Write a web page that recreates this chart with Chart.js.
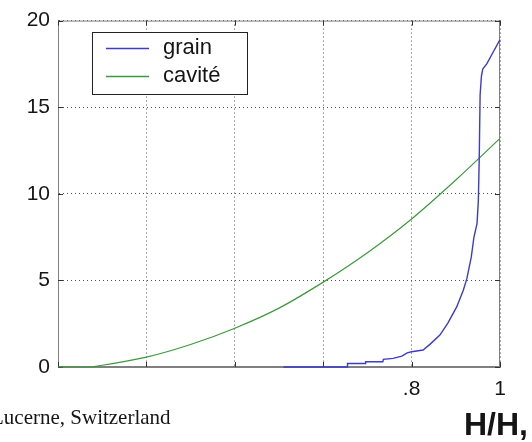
<!DOCTYPE html>
<html>
<head>
<meta charset="utf-8">
<script src="https://cdn.jsdelivr.net/npm/chart.js"></script>
<style>
    body { margin: 0; background: #fff; }
    #cadre { position: relative; width: 532px; height: 442px; overflow: hidden; background: #fff; }
    #cadre canvas { position: absolute; left: 0; top: 0; }
    .note { position: absolute; white-space: nowrap; color: #151515; line-height: 1; }
    #lieu { left: -9px; top: 405px; font: 21px "Liberation Serif", "Times New Roman", serif; }
    #axeX { left: 464px; top: 406px; font: bold 32px "Liberation Sans", Arial, sans-serif; }
</style>
</head>
<body>
<div id="cadre">
    <canvas id="courbes" width="532" height="442"></canvas>
    <div class="note" id="lieu">Lucerne, Switzerland</div>
    <div class="note" id="axeX">H/H,</div>
</div>
<script>
// Courbe "grain"
const grainX = [0.51, 0.654, 0.655, 0.695, 0.696, 0.735, 0.736, 0.758, 0.778, 0.79, 0.80, 0.826, 0.842, 0.864, 0.882, 0.902, 0.917, 0.925, 0.935, 0.941, 0.948, 0.951, 0.953, 0.955, 0.958, 0.961, 0.97, 0.985, 1.0];
const grainY = [0, 0, 0.2, 0.2, 0.3, 0.3, 0.44, 0.5, 0.63, 0.82, 0.88, 0.98, 1.32, 1.84, 2.53, 3.47, 4.43, 5.1, 6.34, 7.49, 8.28, 9.6, 12.0, 15.7, 16.8, 17.2, 17.5, 18.2, 18.9];

// Courbe "cavité"
const caviteX = [0, 0.07, 0.1, 0.2, 0.3, 0.4, 0.5, 0.6, 0.7, 0.8, 0.9, 1.0];
const caviteY = [0, 0, 0.1, 0.57, 1.3, 2.24, 3.4, 4.9, 6.6, 8.55, 10.8, 13.2];

// Graduations
const xTicksShown = [0.8, 1];
const xTickText = ['.8', '1'];
const yTicks = [0, 5, 10, 15, 20];

const police = '"Liberation Sans", Arial, sans-serif';

function points(xs, ys) {
    return xs.map((x, i) => ({ x: x, y: ys[i] }));
}

// Cadre et petites graduations façon MATLAB (sous les courbes), légende par-dessus
const cadrePlugin = {
    id: 'cadre',
    beforeDatasetsDraw(chart) {
        const ctx = chart.ctx;
        const a = chart.chartArea;
        const sx = chart.scales.x;
        const sy = chart.scales.y;
        ctx.save();
        ctx.strokeStyle = '#808080';
        ctx.lineWidth = 1;
        ctx.strokeRect(a.left + 0.5, a.top + 0.5, a.right - a.left - 1, a.bottom - a.top - 1);

        ctx.strokeStyle = '#333';
        ctx.beginPath();
        sx.ticks.forEach(t => {
            const px = Math.round(sx.getPixelForValue(t.value)) + 0.5;
            ctx.moveTo(px, a.bottom); ctx.lineTo(px, a.bottom - 5);
            ctx.moveTo(px, a.top); ctx.lineTo(px, a.top + 5);
        });
        yTicks.forEach(v => {
            const py = Math.round(sy.getPixelForValue(v)) + 0.5;
            ctx.moveTo(a.left, py); ctx.lineTo(a.left + 5, py);
            ctx.moveTo(a.right, py); ctx.lineTo(a.right - 5, py);
        });
        ctx.stroke();
        ctx.restore();
    },
    afterDraw(chart) {
        const ctx = chart.ctx;
        ctx.save();
        ctx.fillStyle = '#fff';
        ctx.fillRect(92, 32, 155, 62);
        ctx.strokeStyle = '#222';
        ctx.lineWidth = 1;
        ctx.strokeRect(92.5, 32.5, 155, 62);
        ctx.font = '22px ' + police;
        ctx.textBaseline = 'middle';
        const lignes = [48, 76];
        chart.data.datasets.forEach((ds, i) => {
            ctx.strokeStyle = ds.borderColor;
            ctx.lineWidth = 1.3;
            ctx.beginPath();
            ctx.moveTo(106, lignes[i] + 0.5);
            ctx.lineTo(149, lignes[i] + 0.5);
            ctx.stroke();
            ctx.fillStyle = '#151515';
            ctx.fillText(ds.label, 163, lignes[i]);
        });
        ctx.restore();
    }
};

const ctxCourbes = document.getElementById('courbes').getContext('2d');
new Chart(ctxCourbes, {
    type: 'line',
    data: {
        datasets: [{
            label: 'grain',
            data: points(grainX, grainY),
            borderColor: '#3c3cc8',
            borderWidth: 1.4,
            pointRadius: 0,
            tension: 0,
            clip: false,
            fill: false
        }, {
            label: 'cavité',
            data: points(caviteX, caviteY),
            borderColor: '#3c9a3c',
            borderWidth: 1.2,
            pointRadius: 0,
            cubicInterpolationMode: 'monotone',
            clip: false,
            fill: false
        }]
    },
    options: {
        responsive: false,
        animation: false,
        layout: {
            padding: { top: 19, right: 32, left: 0, bottom: 0 }
        },
        plugins: {
            legend: { display: false },
            tooltip: { enabled: false }
        },
        scales: {
            x: {
                type: 'linear',
                min: 0,
                max: 1,
                afterFit: s => { s.height = 75; },
                ticks: {
                    stepSize: 0.2,
                    autoSkip: false,
                    maxRotation: 0,
                    padding: 10,
                    color: '#151515',
                    font: { family: police, size: 21 },
                    callback: v => {
                        const i = xTicksShown.indexOf(Math.round(v * 10) / 10);
                        return i < 0 ? '' : xTickText[i];
                    }
                },
                grid: { color: '#555', lineWidth: 1, drawTicks: false },
                border: { color: '#808080', width: 1, dash: [1, 3] }
            },
            y: {
                min: 0,
                max: 20,
                afterFit: s => { s.width = 58; },
                afterBuildTicks: s => { s.ticks = yTicks.map(v => ({ value: v })); },
                ticks: {
                    padding: 8,
                    color: '#151515',
                    font: { family: police, size: 21 }
                },
                grid: { color: '#555', lineWidth: 1, drawTicks: false },
                border: { color: '#808080', width: 1, dash: [1, 3] }
            }
        }
    },
    plugins: [cadrePlugin]
});
</script>
</body>
</html>
